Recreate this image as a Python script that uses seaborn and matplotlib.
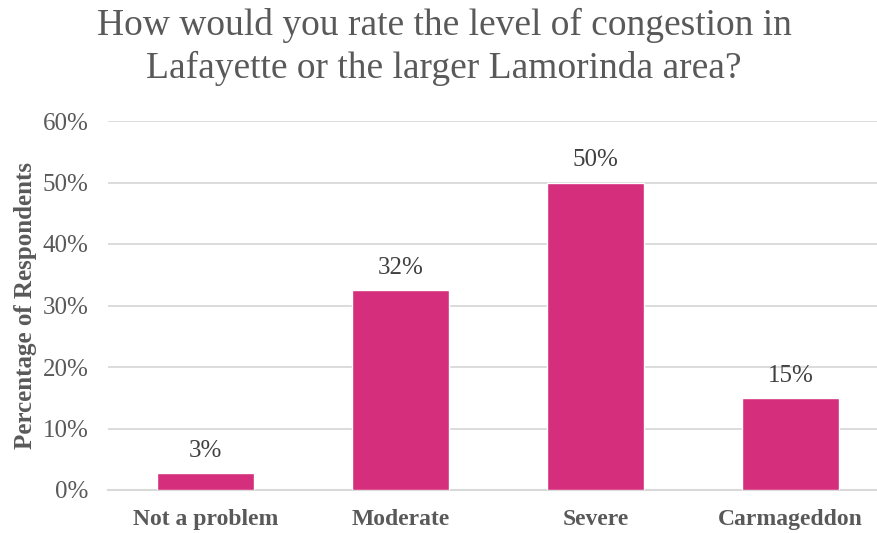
import matplotlib
matplotlib.use("Agg")
import matplotlib.pyplot as plt
import seaborn as sns
import pandas as pd
from matplotlib.ticker import FixedLocator, PercentFormatter

categories = ["Not a problem", "Moderate", "Severe", "Carmageddon"]
values = [2.7, 32.5, 50.0, 14.9]
value_labels = ["3%", "32%", "50%", "15%"]
y_ticks = [0, 10, 20, 30, 40, 50, 60]

sns.set_theme(style="white")
plt.rcParams['font.family'] = ['Liberation Serif', 'DejaVu Serif']

df = pd.DataFrame({"category": categories, "value": values})

fig = plt.figure(figsize=(8.77, 5.33), dpi=100)
ax = fig.add_axes([108/877, (533-490)/533, (888-108)/877, (490-121)/533])

sns.barplot(data=df, x="category", y="value", color="#D42E7C", width=0.5,
            saturation=1, ax=ax, zorder=3)

ax.set_xlim(-0.5, 3.5)
ax.set_ylim(0, 60)
ax.yaxis.set_major_locator(FixedLocator(y_ticks))
ax.yaxis.set_major_formatter(PercentFormatter(decimals=0))
ax.grid(axis="y", color="#D9D9D9", linewidth=1.3, zorder=0)
ax.set_axisbelow(True)

for s in ["top", "right", "left"]:
    ax.spines[s].set_visible(False)
ax.spines["bottom"].set_color("#D9D9D9")
ax.spines["bottom"].set_linewidth(1.5)

ax.tick_params(axis="y", length=0, labelsize=18, labelcolor="#595959", pad=14)
ax.tick_params(axis="x", which="major", length=0, labelsize=17, pad=14)
ax.set_xticks(range(len(categories)))
ax.set_xticklabels(categories, fontweight="bold", color="#595959")
ax.set_xticks([-0.5, 0.5, 1.5, 2.5, 3.5], minor=True)
ax.tick_params(axis="x", which="minor", length=6, width=1.3, color="#D9D9D9", direction="out")

for i, (v, lab) in enumerate(zip(values, value_labels)):
    ax.annotate(lab, (i, v), xytext=(0, 8), textcoords="offset points",
                ha="center", va="bottom", fontsize=18, color="#404040")

ax.set_xlabel("")
ax.set_ylabel("Percentage of Respondents", fontsize=18, fontweight="bold",
              color="#595959", labelpad=4)

fig.text(444/877, 1 - 47/533,
         "How would you rate the level of congestion in\nLafayette or the larger Lamorinda area?",
         ha="center", va="center", fontsize=27, color="#595959", linespacing=1.26)

fig.savefig("out.png", dpi=100)
